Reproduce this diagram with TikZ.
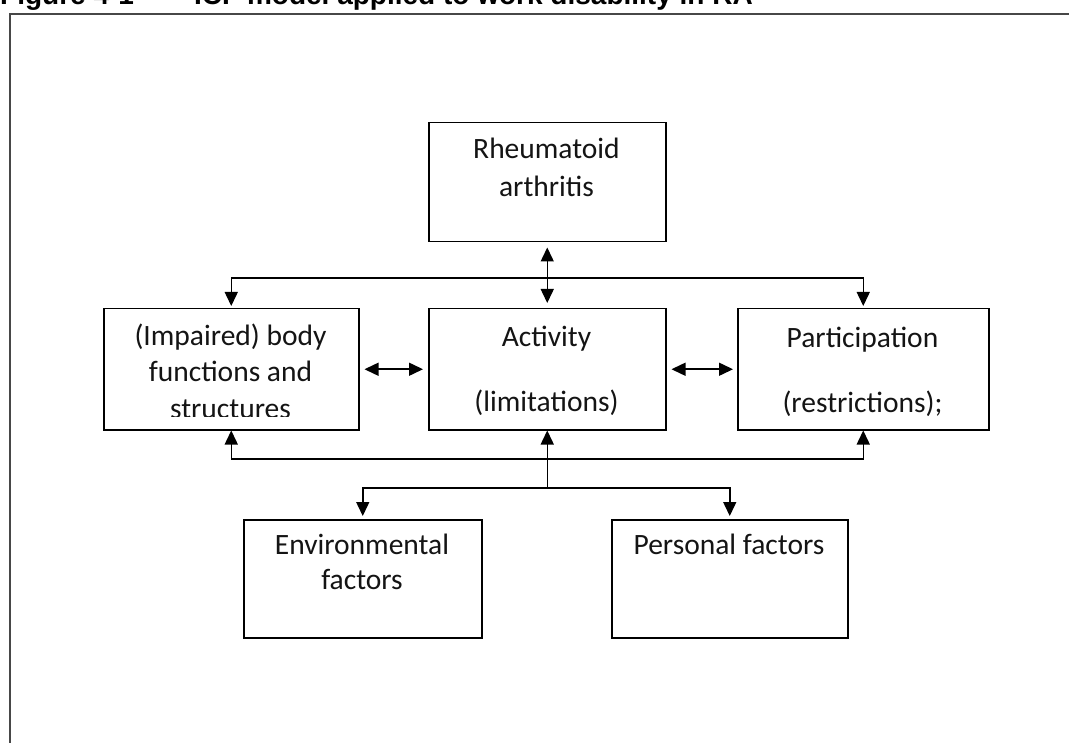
\documentclass[tikz,border=0pt]{standalone}
\usepackage{fontspec}
\setmainfont{Carlito}
\newfontfamily\titlefont{Liberation Sans}
\usetikzlibrary{arrows.meta}
\begin{document}
\begin{tikzpicture}[x=1pt,y=-1pt,
  box/.style={draw=black, line width=1.5pt, anchor=north west, inner sep=0pt},
  lbl/.style={anchor=base, inner sep=0pt, font=\fontsize{29.5}{36}\selectfont, text=black!92},
  conn/.style={draw=black, line width=1.5pt, line join=miter},
  tip/.tip={Triangle[length=14pt,width=13pt]},
  frame/.style={draw=black!72, line width=2.4pt},
  ttl/.style={anchor=base west, inner sep=0pt, font=\titlefont\bfseries\fontsize{28}{30}\selectfont}]
\useasboundingbox (0,0) rectangle (1069,743);
\clip (0,0) rectangle (1069,743);
\fill[white] (0,0) rectangle (1069,743);

% title and frame
\node[ttl] (title) at (0,5) {Figure 4-1};
\node[ttl] (title2) at (194,5) {ICF model applied to work disability in RA};
\draw[frame] (10,743) -- (10,14) -- (1069,14);

% boxes
\node[box, minimum width=237pt, minimum height=119pt] (ra) at (428,122) {};
\node[box, minimum width=255pt, minimum height=121pt] (body) at (103,308) {};
\node[box, minimum width=237pt, minimum height=121pt] (act) at (428,308) {};
\node[box, minimum width=251pt, minimum height=121pt] (part) at (737,308) {};
\node[box, minimum width=238pt, minimum height=118pt] (env) at (243,519) {};
\node[box, minimum width=236pt, minimum height=118pt] (pers) at (611,519) {};

% texts
\node[lbl] (raA) at (546.5,159) {Rheumatoid};
\node[lbl] (raB) at (546.5,197) {arthritis};
\node[lbl] (bodyA) at (230.5,346) {(Impaired) body};
\node[lbl] (bodyB) at (230.5,382) {functions and};
\begin{scope}
  \clip (103,308) rectangle (358,417);
  \node[lbl] (bodyC) at (230.5,419) {structures};
\end{scope}
\node[lbl] (actA) at (546.5,347) {Activity};
\node[lbl] (actB) at (546.5,411) {(limitations)};
\node[lbl] (partA) at (862.5,348) {Participation};
\node[lbl] (partB) at (862.5,413) {(restrictions);};
\node[lbl] (envA) at (362,554) {Environmental};
\node[lbl] (envB) at (362,589) {factors};
\node[lbl] (persA) at (729,554) {Personal factors};

% junction coordinates
\coordinate (tl) at (body.north |- 0,278);
\coordinate (tr) at (part.north |- 0,278);
\coordinate (bl) at (body.south |- 0,459);
\coordinate (br) at (part.south |- 0,459);
\coordinate (bj) at (act.south |- 0,488);
\coordinate (el) at (env.north |- 0,488);
\coordinate (pr) at (pers.north |- 0,488);

% connectors
\draw[conn, tip-tip, shorten <=5pt, shorten >=5pt] (ra.south) -- (act.north);
\draw[conn, tip-tip, shorten <=2pt, shorten >=2pt] (body.north) -- (tl) -- (tr) -- (part.north);
\draw[conn, tip-tip, shorten <=5pt, shorten >=5pt] (body.east) -- (act.west);
\draw[conn, tip-tip, shorten <=5pt, shorten >=4pt] (act.east) -- (part.west);
\draw[conn, tip-tip] (body.south) -- (bl) -- (br) -- (part.south);
\draw[conn, -tip] (bj) -- (act.south);
\draw[conn, tip-tip, shorten <=3pt, shorten >=3pt] (env.north) -- (el) -- (pr) -- (pers.north);
\end{tikzpicture}
\end{document}
